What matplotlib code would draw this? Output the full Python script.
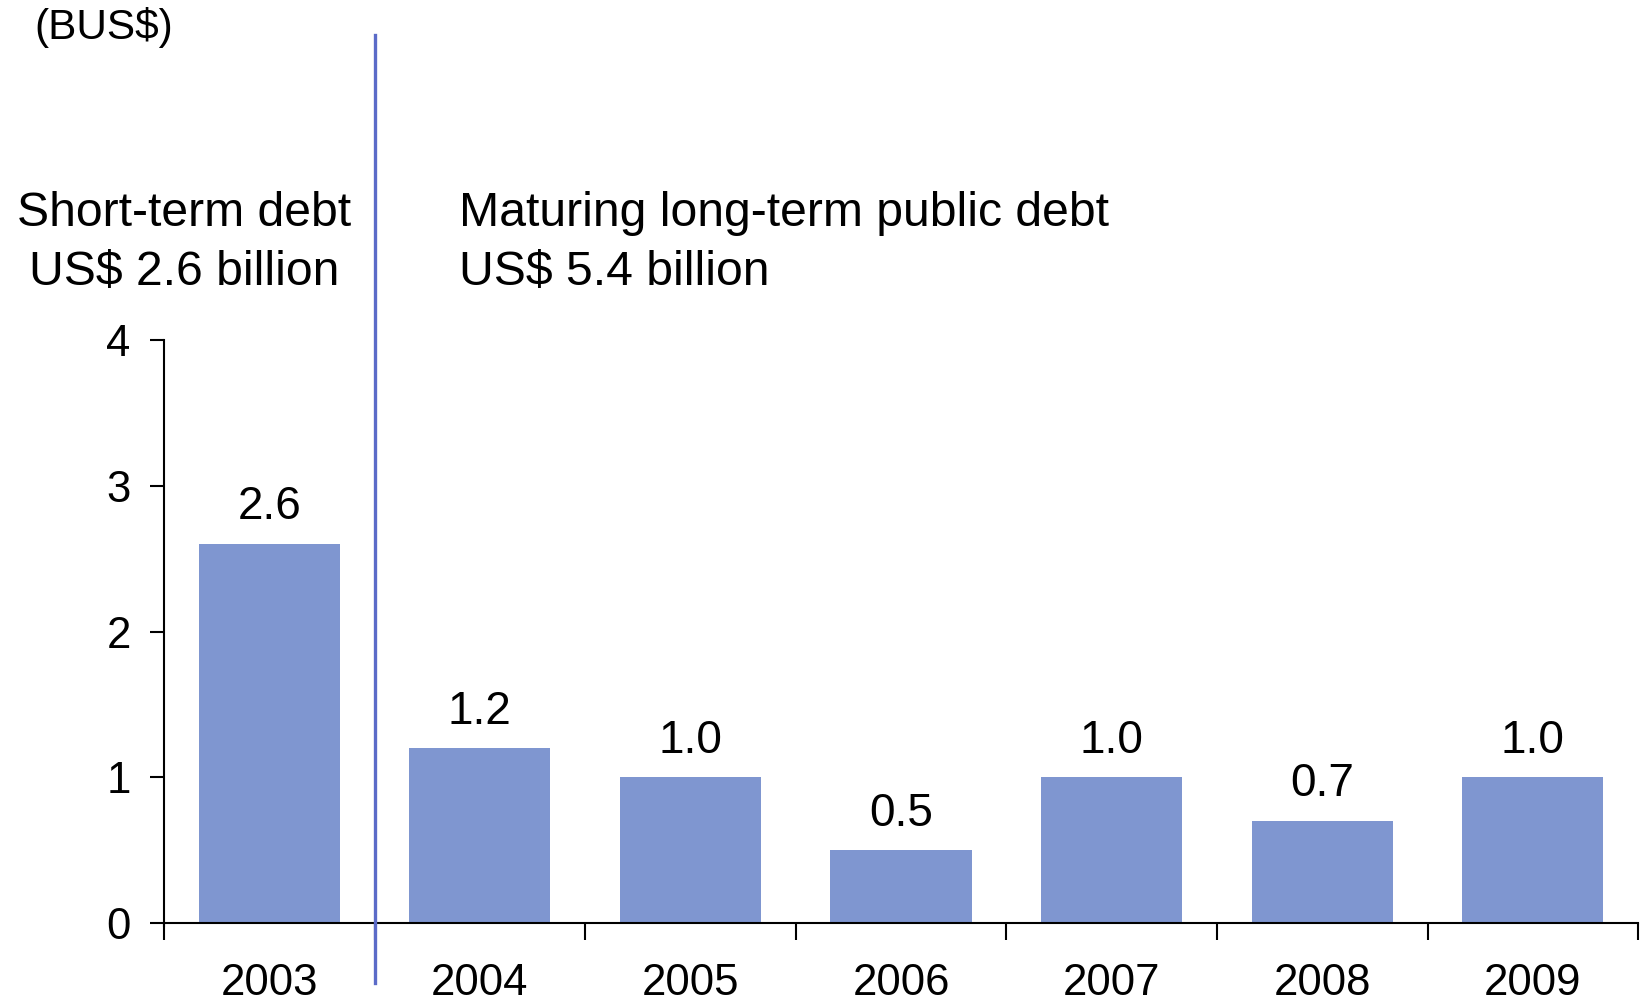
import matplotlib.pyplot as plt
import numpy as np

years = ["2003", "2004", "2005", "2006", "2007", "2008", "2009"]
debt = [2.6, 1.2, 1.0, 0.5, 1.0, 0.7, 1.0]
value_labels = ["2.6", "1.2", "1.0", "0.5", "1.0", "0.7", "1.0"]

plt.rcParams['font.family'] = ['Liberation Sans', 'DejaVu Sans']

fig = plt.figure(figsize=(16.48, 10.02), dpi=100)
ax = fig.add_axes([0.0995, 0.0788, 0.8945, 0.5819])

x = np.arange(len(years))
bars = ax.bar(x, debt, width=0.67, color='#7f96d0', zorder=2)

# value labels above bars
for bar, lab in zip(bars, value_labels):
    ax.text(bar.get_x() + bar.get_width() / 2, bar.get_height() + 0.1, lab,
            ha='center', va='bottom', fontsize=33)

ax.set_xlim(-0.5, len(years) - 0.5)
ax.set_ylim(0, 4)

# boundary ticks on x, labels at bar centres
ax.set_xticks(np.arange(-0.5, len(years), 1.0))
ax.set_xticklabels([])
ax.set_xticks(x, minor=True)
ax.set_xticklabels(years, minor=True, fontsize=31.5)
ax.tick_params(axis='x', which='major', direction='out', length=12, width=1.5)
ax.tick_params(axis='x', which='minor', length=0, pad=29)

ax.set_yticks([0, 1, 2, 3, 4])
ax.tick_params(axis='y', direction='out', length=10, width=1.5, labelsize=31.5, pad=14)

ax.spines['top'].set_visible(False)
ax.spines['right'].set_visible(False)
ax.spines['bottom'].set_linewidth(1.5)
ax.spines['left'].set_linewidth(1.5)
ax.spines['left'].set_bounds(-0.02, 4)

# separator between short-term and long-term debt
trans = ax.get_xaxis_transform()
ax.plot([0.5, 0.5], [-0.103, 1.523], transform=trans, color='#5b6bc8',
        linewidth=2.4, clip_on=False, zorder=3)

fig.text(104 / 1648, 1 - 28 / 1002, "(BUS$)", ha='center', va='center', fontsize=30.5)
fig.text(184 / 1648, 1 - 243 / 1002, "Short-term debt\nUS$ 2.6 billion",
         ha='center', va='center', fontsize=34.7, linespacing=1.4)
fig.text(459 / 1648, 1 - 243 / 1002, "Maturing long-term public debt\nUS$ 5.4 billion",
         ha='left', va='center', fontsize=34.7, linespacing=1.4)

plt.savefig('out.png', dpi=100)
